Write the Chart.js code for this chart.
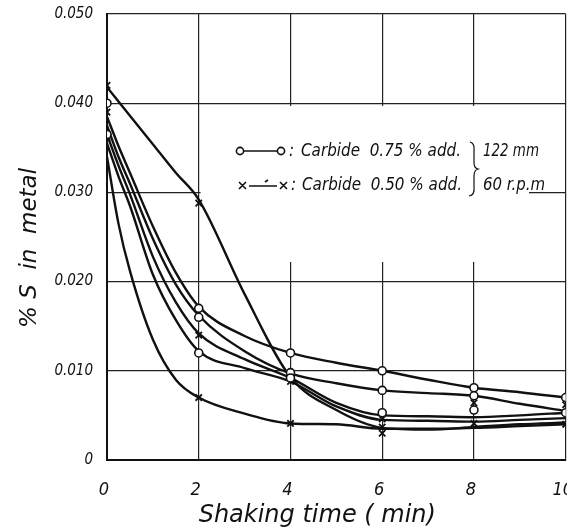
<!DOCTYPE html>
<html>
<head>
<meta charset="utf-8">
<script src="https://cdn.jsdelivr.net/npm/chart.js@4.4.1/dist/chart.umd.min.js"></script>
<style>
  html, body { margin: 0; padding: 0; background: #fff; overflow: hidden; }
  /* a bit wider than the window so the frame reaches x=565 and "10" gets clipped like the scan */
  #wrap { width: 572px; height: 531px; }
</style>
</head>
<body>
<div id="wrap"><canvas id="sulphurChart"></canvas></div>
<script>
// shaking time (min) and % S
const xTicks = [0, 2, 4, 6, 8, 10];
const yTicks = [0, 0.010, 0.020, 0.030, 0.040, 0.050];

// markers: o = carbide 0.75 % add., x = carbide 0.50 % add.
const circleTimes  = [0, 0, 2, 2, 2, 4, 4, 4, 6, 6, 6, 8, 8, 8, 10, 10];
const circleValues = [0.040, 0.0365, 0.017, 0.016, 0.012, 0.012, 0.0098, 0.0092, 0.0100, 0.0078, 0.0053, 0.0081, 0.0072, 0.0056, 0.0070, 0.0053];
const crossTimes   = [0, 0, 0, 2, 2, 2, 4, 4, 6, 6, 6, 8, 8, 10, 10];
const crossValues  = [0.042, 0.039, 0.0362, 0.0288, 0.014, 0.007, 0.0088, 0.0041, 0.0046, 0.0037, 0.0030, 0.0064, 0.0041, 0.0062, 0.0040];

// hand drawn curves, sampled along the picture
const curveTimes = [0, 0.25, 0.5, 1, 1.5, 2, 3, 4, 5, 6, 7, 8, 9, 10];
const curveA = [0.0418, 0.0402, 0.0386, 0.0354, 0.0322, 0.0292, 0.0186, 0.0093, 0.0056, 0.0036, 0.0034, 0.0037, 0.0040, 0.0042];
const curveB = [0.0385, 0.0352, 0.0322, 0.0262, 0.0210, 0.0172, 0.0139, 0.0120, 0.0109, 0.0100, 0.0090, 0.0081, 0.0076, 0.0070];
const curveC = [0.0375, 0.0340, 0.0310, 0.0248, 0.0197, 0.0162, 0.0122, 0.0097, 0.0086, 0.0078, 0.0075, 0.0072, 0.0063, 0.0055];
const curveD = [0.0365, 0.0330, 0.0298, 0.0228, 0.0177, 0.0142, 0.0113, 0.0092, 0.0064, 0.0050, 0.0049, 0.0048, 0.0050, 0.0053];
const curveE = [0.0355, 0.0318, 0.0285, 0.0208, 0.0157, 0.0122, 0.0103, 0.0088, 0.0060, 0.0045, 0.0044, 0.0043, 0.0045, 0.0047];
const curveF = [0.0340, 0.0265, 0.0212, 0.0135, 0.0090, 0.0070, 0.0052, 0.0041, 0.0040, 0.0035, 0.0035, 0.0036, 0.0038, 0.0040];

const FONT = '"DejaVu Sans Condensed", "Liberation Sans Narrow", "DejaVu Sans", sans-serif';
const WIDE = '"DejaVu Sans", sans-serif';

const pairs = (xs, ys) => xs.map((x, i) => ({ x: x, y: ys[i] }));

function curve(values) {
    return {
        data: pairs(curveTimes, values),
        showLine: true,
        borderColor: '#111',
        borderWidth: 2.4,
        pointRadius: 0,
        cubicInterpolationMode: 'monotone',
        order: 2
    };
}

// blank patch behind the legend (grid is not drawn there in the original)
const legendPatch = {
    id: 'legendPatch',
    beforeDatasetsDraw(chart) {
        const { ctx, scales: { x, y } } = chart;
        const x0 = x.getPixelForValue(2.04), x1 = x.getPixelForValue(9.2);
        const y0 = y.getPixelForValue(0.0397), y1 = y.getPixelForValue(0.0222);
        ctx.save();
        ctx.fillStyle = '#fff';
        ctx.fillRect(x0, y0, x1 - x0, y1 - y0);
        ctx.restore();
    }
};

const legendBox = {
    id: 'legendBox',
    afterDatasetsDraw(chart) {
        const ctx = chart.ctx;
        ctx.save();
        ctx.strokeStyle = '#111';
        ctx.fillStyle = '#111';
        ctx.lineWidth = 1.6;

        // o----o
        ctx.beginPath();
        ctx.moveTo(244, 151); ctx.lineTo(277, 151);
        ctx.stroke();
        ctx.beginPath(); ctx.arc(240, 151, 3.6, 0, Math.PI * 2); ctx.stroke();
        ctx.beginPath(); ctx.arc(281, 151, 3.6, 0, Math.PI * 2); ctx.stroke();

        // x-.-x
        ctx.beginPath();
        ctx.moveTo(239, 182); ctx.lineTo(246, 189);
        ctx.moveTo(246, 182); ctx.lineTo(239, 189);
        ctx.moveTo(280, 182); ctx.lineTo(287, 189);
        ctx.moveTo(287, 182); ctx.lineTo(280, 189);
        ctx.moveTo(249, 186); ctx.lineTo(277, 186);
        ctx.moveTo(265, 182); ctx.lineTo(268, 180);
        ctx.stroke();

        ctx.font = 'italic 17px ' + FONT;
        ctx.textBaseline = 'middle';
        ctx.textAlign = 'left';
        ctx.fillText(':', 289, 152);
        ctx.fillText(':', 291, 186);
        ctx.fillText('Carbide  0.75 % add.', 301, 152, 160);
        ctx.fillText('Carbide  0.50 % add.', 302, 186, 160);
        ctx.fillText('122 mm', 483, 152, 56);
        ctx.fillText('60 r.p.m', 483, 186, 62);

        // brace
        ctx.lineWidth = 1.2;
        ctx.beginPath();
        ctx.moveTo(470, 142);
        ctx.quadraticCurveTo(475, 143, 474, 152);
        ctx.lineTo(474, 163);
        ctx.quadraticCurveTo(474, 168, 478, 169);
        ctx.quadraticCurveTo(474, 170, 474, 176);
        ctx.lineTo(474, 187);
        ctx.quadraticCurveTo(475, 195, 469, 196);
        ctx.stroke();
        ctx.restore();
    }
};

new Chart(document.getElementById('sulphurChart'), {
    type: 'scatter',
    data: {
        datasets: [
            {
                label: 'Carbide 0.75% add.',
                data: pairs(circleTimes, circleValues),
                pointStyle: 'circle',
                pointRadius: 4,
                pointBorderWidth: 1.6,
                pointBackgroundColor: '#fff',
                pointBorderColor: '#111',
                showLine: false,
                order: 0
            },
            {
                label: 'Carbide 0.50% add.',
                data: pairs(crossTimes, crossValues),
                pointStyle: 'crossRot',
                pointRadius: 4.5,
                pointBorderWidth: 1.8,
                pointBorderColor: '#111',
                showLine: false,
                order: 1
            },
            curve(curveA), curve(curveB), curve(curveC),
            curve(curveD), curve(curveE), curve(curveF)
        ]
    },
    options: {
        responsive: true,
        maintainAspectRatio: false,
        animation: false,
        layout: { padding: { top: 14, right: 0, left: 0, bottom: 0 } },
        plugins: { legend: { display: false }, tooltip: { enabled: false } },
        scales: {
            x: {
                type: 'linear',
                min: 0, max: 10,
                afterBuildTicks: (scale) => { scale.ticks = xTicks.map(v => ({ value: v })); },
                afterFit: (scale) => { scale.height = 71; scale.paddingLeft = 0; scale.paddingRight = 0; },
                ticks: {
                    color: '#111',
                    padding: 20,
                    labelOffset: -3,
                    maxRotation: 0,
                    autoSkip: false,
                    font: { family: FONT, size: 18, style: 'italic' }
                },
                grid: { color: '#222', lineWidth: 1.2, drawTicks: false },
                border: { color: '#111', width: 2 },
                title: {
                    display: true,
                    text: 'Shaking time ( min)     ',
                    color: '#111',
                    padding: { top: 0, bottom: 1 },
                    font: { family: WIDE, size: 24, style: 'italic' }
                }
            },
            y: {
                min: 0, max: 0.05,
                afterBuildTicks: (scale) => { scale.ticks = yTicks.map(v => ({ value: v })); },
                afterFit: (scale) => { scale.width = 107; scale.paddingTop = 0; scale.paddingBottom = 0; },
                ticks: {
                    color: '#111',
                    padding: 14,
                    callback: v => v === 0 ? '0' : v.toFixed(3),
                    font: { family: FONT, size: 15, style: 'italic' }
                },
                grid: { color: '#222', lineWidth: 1.2, drawTicks: false },
                border: { color: '#111', width: 2 },
                title: {
                    display: true,
                    text: '% S  in  metal   ',
                    color: '#111',
                    padding: { top: 16, bottom: 0 },
                    font: { family: WIDE, size: 23, style: 'italic' }
                }
            }
        }
    },
    plugins: [legendPatch, legendBox]
});
</script>
</body>
</html>
